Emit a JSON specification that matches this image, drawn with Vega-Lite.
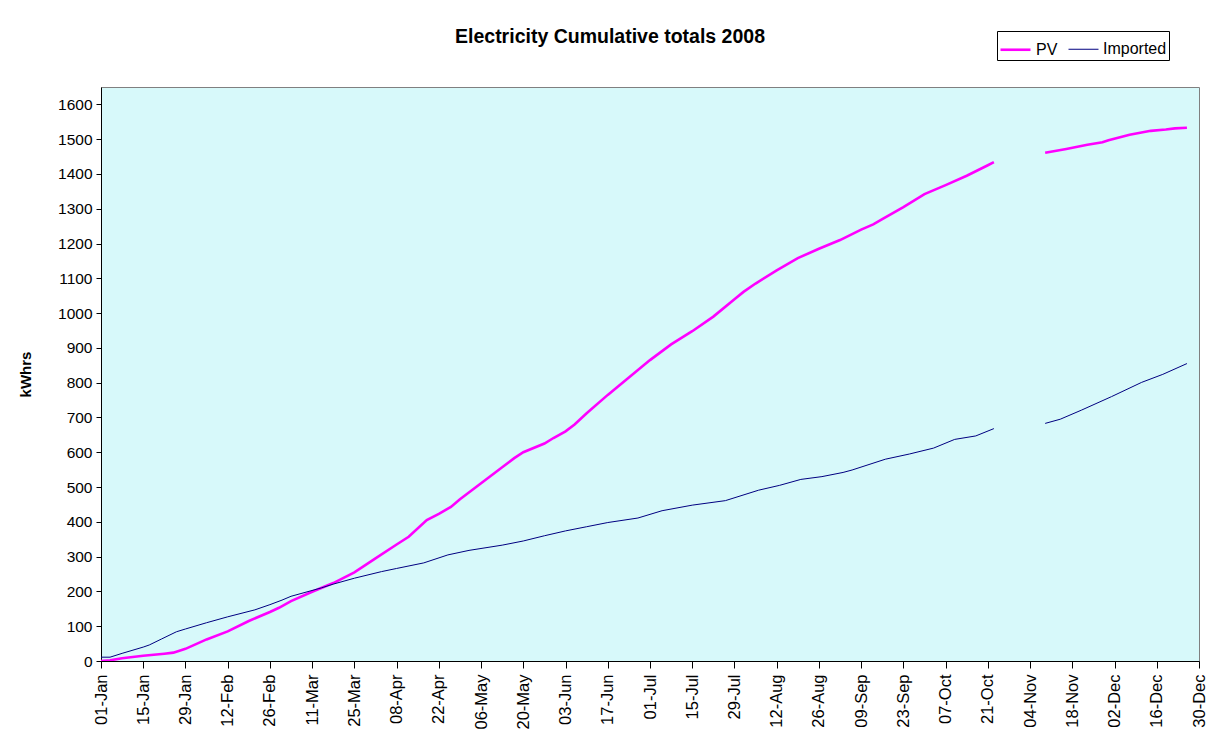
{
  "$schema": "https://vega.github.io/schema/vega-lite/v6.json",
  "width": 1098,
  "height": 574,
  "autosize": "none",
  "padding": {"left": 101, "top": 87, "right": 22, "bottom": 89},
  "background": "white",
  "title": {
    "text": "Electricity Cumulative totals 2008",
    "font": "Liberation Sans",
    "fontSize": 19.5,
    "fontWeight": "bold",
    "color": "black",
    "anchor": "middle",
    "dx": -40,
    "offset": 0,
    "dy": 17
  },
  "config": {
    "view": {"fill": "#D7F9FA", "stroke": "#808080", "strokeWidth": 1},
    "axis": {
      "labelFont": "Liberation Sans",
      "labelFontSize": 15,
      "labelColor": "black",
      "titleFont": "Liberation Sans",
      "titleColor": "black",
      "domainColor": "black",
      "tickColor": "black",
      "grid": false
    },
    "legend": {
      "labelFont": "Liberation Sans",
      "labelFontSize": 16,
      "labelColor": "black"
    }
  },
  "data": {
    "values": [
      {"date": "2008-01-01", "series": "PV", "part": 1, "kwh": 0},
      {"date": "2008-01-04", "series": "PV", "part": 1, "kwh": 2},
      {"date": "2008-01-08", "series": "PV", "part": 1, "kwh": 8},
      {"date": "2008-01-15", "series": "PV", "part": 1, "kwh": 15},
      {"date": "2008-01-22", "series": "PV", "part": 1, "kwh": 21},
      {"date": "2008-01-25", "series": "PV", "part": 1, "kwh": 24},
      {"date": "2008-01-29", "series": "PV", "part": 1, "kwh": 35},
      {"date": "2008-02-05", "series": "PV", "part": 1, "kwh": 62},
      {"date": "2008-02-12", "series": "PV", "part": 1, "kwh": 85},
      {"date": "2008-02-19", "series": "PV", "part": 1, "kwh": 115},
      {"date": "2008-02-26", "series": "PV", "part": 1, "kwh": 141},
      {"date": "2008-02-29", "series": "PV", "part": 1, "kwh": 153},
      {"date": "2008-03-04", "series": "PV", "part": 1, "kwh": 172},
      {"date": "2008-03-11", "series": "PV", "part": 1, "kwh": 199},
      {"date": "2008-03-18", "series": "PV", "part": 1, "kwh": 224},
      {"date": "2008-03-25", "series": "PV", "part": 1, "kwh": 255},
      {"date": "2008-04-01", "series": "PV", "part": 1, "kwh": 295},
      {"date": "2008-04-08", "series": "PV", "part": 1, "kwh": 335},
      {"date": "2008-04-12", "series": "PV", "part": 1, "kwh": 357},
      {"date": "2008-04-18", "series": "PV", "part": 1, "kwh": 405},
      {"date": "2008-04-22", "series": "PV", "part": 1, "kwh": 423},
      {"date": "2008-04-26", "series": "PV", "part": 1, "kwh": 443},
      {"date": "2008-04-29", "series": "PV", "part": 1, "kwh": 465},
      {"date": "2008-05-06", "series": "PV", "part": 1, "kwh": 511},
      {"date": "2008-05-13", "series": "PV", "part": 1, "kwh": 557},
      {"date": "2008-05-17", "series": "PV", "part": 1, "kwh": 583},
      {"date": "2008-05-20", "series": "PV", "part": 1, "kwh": 600},
      {"date": "2008-05-27", "series": "PV", "part": 1, "kwh": 625},
      {"date": "2008-05-30", "series": "PV", "part": 1, "kwh": 641},
      {"date": "2008-06-03", "series": "PV", "part": 1, "kwh": 660},
      {"date": "2008-06-06", "series": "PV", "part": 1, "kwh": 680},
      {"date": "2008-06-10", "series": "PV", "part": 1, "kwh": 712},
      {"date": "2008-06-17", "series": "PV", "part": 1, "kwh": 765},
      {"date": "2008-06-24", "series": "PV", "part": 1, "kwh": 815},
      {"date": "2008-07-01", "series": "PV", "part": 1, "kwh": 865},
      {"date": "2008-07-08", "series": "PV", "part": 1, "kwh": 910},
      {"date": "2008-07-15", "series": "PV", "part": 1, "kwh": 948},
      {"date": "2008-07-22", "series": "PV", "part": 1, "kwh": 990},
      {"date": "2008-07-29", "series": "PV", "part": 1, "kwh": 1040},
      {"date": "2008-08-01", "series": "PV", "part": 1, "kwh": 1061},
      {"date": "2008-08-05", "series": "PV", "part": 1, "kwh": 1085},
      {"date": "2008-08-12", "series": "PV", "part": 1, "kwh": 1123},
      {"date": "2008-08-19", "series": "PV", "part": 1, "kwh": 1158},
      {"date": "2008-08-26", "series": "PV", "part": 1, "kwh": 1185},
      {"date": "2008-09-02", "series": "PV", "part": 1, "kwh": 1210},
      {"date": "2008-09-09", "series": "PV", "part": 1, "kwh": 1240},
      {"date": "2008-09-13", "series": "PV", "part": 1, "kwh": 1255},
      {"date": "2008-09-16", "series": "PV", "part": 1, "kwh": 1270},
      {"date": "2008-09-23", "series": "PV", "part": 1, "kwh": 1305},
      {"date": "2008-09-30", "series": "PV", "part": 1, "kwh": 1342},
      {"date": "2008-10-07", "series": "PV", "part": 1, "kwh": 1368},
      {"date": "2008-10-14", "series": "PV", "part": 1, "kwh": 1395},
      {"date": "2008-10-21", "series": "PV", "part": 1, "kwh": 1425},
      {"date": "2008-10-23", "series": "PV", "part": 1, "kwh": 1434},
      {"date": "2008-11-09", "series": "PV", "part": 2, "kwh": 1461},
      {"date": "2008-11-16", "series": "PV", "part": 2, "kwh": 1472},
      {"date": "2008-11-23", "series": "PV", "part": 2, "kwh": 1484},
      {"date": "2008-11-28", "series": "PV", "part": 2, "kwh": 1491},
      {"date": "2008-11-30", "series": "PV", "part": 2, "kwh": 1497},
      {"date": "2008-12-07", "series": "PV", "part": 2, "kwh": 1513},
      {"date": "2008-12-14", "series": "PV", "part": 2, "kwh": 1524},
      {"date": "2008-12-19", "series": "PV", "part": 2, "kwh": 1528},
      {"date": "2008-12-22", "series": "PV", "part": 2, "kwh": 1531},
      {"date": "2008-12-26", "series": "PV", "part": 2, "kwh": 1533},
      {"date": "2008-01-01", "series": "Imported", "part": 1, "kwh": 11},
      {"date": "2008-01-04", "series": "Imported", "part": 1, "kwh": 11},
      {"date": "2008-01-08", "series": "Imported", "part": 1, "kwh": 22},
      {"date": "2008-01-15", "series": "Imported", "part": 1, "kwh": 40},
      {"date": "2008-01-17", "series": "Imported", "part": 1, "kwh": 46},
      {"date": "2008-01-21", "series": "Imported", "part": 1, "kwh": 63},
      {"date": "2008-01-26", "series": "Imported", "part": 1, "kwh": 84},
      {"date": "2008-01-29", "series": "Imported", "part": 1, "kwh": 92},
      {"date": "2008-02-05", "series": "Imported", "part": 1, "kwh": 110},
      {"date": "2008-02-12", "series": "Imported", "part": 1, "kwh": 127},
      {"date": "2008-02-21", "series": "Imported", "part": 1, "kwh": 147},
      {"date": "2008-02-26", "series": "Imported", "part": 1, "kwh": 162},
      {"date": "2008-03-01", "series": "Imported", "part": 1, "kwh": 175},
      {"date": "2008-03-04", "series": "Imported", "part": 1, "kwh": 186},
      {"date": "2008-03-14", "series": "Imported", "part": 1, "kwh": 210},
      {"date": "2008-03-18", "series": "Imported", "part": 1, "kwh": 221},
      {"date": "2008-03-25", "series": "Imported", "part": 1, "kwh": 238},
      {"date": "2008-04-03", "series": "Imported", "part": 1, "kwh": 257},
      {"date": "2008-04-08", "series": "Imported", "part": 1, "kwh": 266},
      {"date": "2008-04-17", "series": "Imported", "part": 1, "kwh": 282},
      {"date": "2008-04-25", "series": "Imported", "part": 1, "kwh": 305},
      {"date": "2008-05-02", "series": "Imported", "part": 1, "kwh": 318},
      {"date": "2008-05-13", "series": "Imported", "part": 1, "kwh": 333},
      {"date": "2008-05-20", "series": "Imported", "part": 1, "kwh": 345},
      {"date": "2008-05-27", "series": "Imported", "part": 1, "kwh": 360},
      {"date": "2008-06-03", "series": "Imported", "part": 1, "kwh": 374},
      {"date": "2008-06-10", "series": "Imported", "part": 1, "kwh": 386},
      {"date": "2008-06-17", "series": "Imported", "part": 1, "kwh": 398},
      {"date": "2008-06-27", "series": "Imported", "part": 1, "kwh": 411},
      {"date": "2008-07-05", "series": "Imported", "part": 1, "kwh": 432},
      {"date": "2008-07-15", "series": "Imported", "part": 1, "kwh": 448},
      {"date": "2008-07-26", "series": "Imported", "part": 1, "kwh": 461},
      {"date": "2008-08-06", "series": "Imported", "part": 1, "kwh": 491},
      {"date": "2008-08-13", "series": "Imported", "part": 1, "kwh": 505},
      {"date": "2008-08-20", "series": "Imported", "part": 1, "kwh": 522},
      {"date": "2008-08-27", "series": "Imported", "part": 1, "kwh": 530},
      {"date": "2008-09-03", "series": "Imported", "part": 1, "kwh": 542},
      {"date": "2008-09-06", "series": "Imported", "part": 1, "kwh": 549},
      {"date": "2008-09-17", "series": "Imported", "part": 1, "kwh": 580},
      {"date": "2008-09-25", "series": "Imported", "part": 1, "kwh": 595},
      {"date": "2008-10-03", "series": "Imported", "part": 1, "kwh": 612},
      {"date": "2008-10-10", "series": "Imported", "part": 1, "kwh": 637},
      {"date": "2008-10-17", "series": "Imported", "part": 1, "kwh": 647},
      {"date": "2008-10-23", "series": "Imported", "part": 1, "kwh": 668},
      {"date": "2008-11-09", "series": "Imported", "part": 2, "kwh": 683},
      {"date": "2008-11-14", "series": "Imported", "part": 2, "kwh": 695},
      {"date": "2008-11-21", "series": "Imported", "part": 2, "kwh": 721},
      {"date": "2008-12-01", "series": "Imported", "part": 2, "kwh": 760},
      {"date": "2008-12-11", "series": "Imported", "part": 2, "kwh": 801},
      {"date": "2008-12-18", "series": "Imported", "part": 2, "kwh": 824},
      {"date": "2008-12-26", "series": "Imported", "part": 2, "kwh": 855}
    ]
  },
  "mark": {"type": "line", "interpolate": "linear", "clip": true},
  "encoding": {
    "x": {
      "field": "date",
      "type": "temporal",
      "scale": {"type": "utc", "domain": ["2008-01-01", "2008-12-30"]},
      "axis": {
        "title": null,
        "format": "%d-%b",
        "values": [
          "2008-01-01", "2008-01-15", "2008-01-29", "2008-02-12", "2008-02-26",
          "2008-03-11", "2008-03-25", "2008-04-08", "2008-04-22", "2008-05-06",
          "2008-05-20", "2008-06-03", "2008-06-17", "2008-07-01", "2008-07-15",
          "2008-07-29", "2008-08-12", "2008-08-26", "2008-09-09", "2008-09-23",
          "2008-10-07", "2008-10-21", "2008-11-04", "2008-11-18", "2008-12-02",
          "2008-12-16", "2008-12-30"
        ],
        "labelAngle": -90,
        "labelAlign": "right",
        "labelBaseline": "middle",
        "labelFontSize": 16.5,
        "labelPadding": 6,
        "tickSize": 7,
        "labelOverlap": false,
        "labelFlush": false
      }
    },
    "y": {
      "field": "kwh",
      "type": "quantitative",
      "scale": {"domain": [0, 1650], "nice": false, "zero": true},
      "axis": {
        "title": "kWhrs",
        "titleFontSize": 15,
        "titleFontWeight": "bold",
        "titleX": -68,
        "format": "d",
        "labelFontSize": 15.5,
        "values": [0, 100, 200, 300, 400, 500, 600, 700, 800, 900, 1000, 1100, 1200, 1300, 1400, 1500, 1600],
        "tickSize": 5,
        "labelPadding": 4
      }
    },
    "detail": {"field": "part", "type": "nominal"},
    "color": {
      "field": "series",
      "type": "nominal",
      "scale": {"domain": ["PV", "Imported"], "range": ["#FF00FF", "#000080"]},
      "legend": {
        "title": null,
        "orient": "none",
        "legendX": 896,
        "legendY": -56,
        "direction": "horizontal",
        "symbolType": "stroke",
        "symbolSize": 900,
        "symbolStrokeWidth": 2,
        "columnPadding": 8,
        "labelOffset": 4,
        "strokeColor": "black",
        "padding": 2,
        "fillColor": "white"
      }
    },
    "strokeWidth": {
      "field": "series",
      "type": "nominal",
      "scale": {"domain": ["PV", "Imported"], "range": [2.6, 1]},
      "legend": null
    }
  }
}
